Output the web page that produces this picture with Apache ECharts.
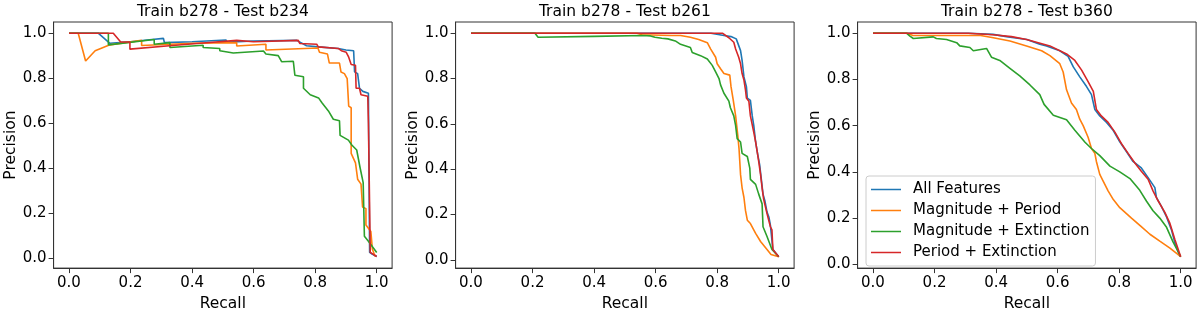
<!DOCTYPE html>
<html><head><meta charset="utf-8">
<script src="https://cdn.jsdelivr.net/npm/echarts@6/dist/echarts.min.js"></script>
<style>html,body{margin:0;padding:0;background:#fff}#c{width:1200px;height:317px}</style>
</head><body><div id="c"></div>
<script>
// ---- labels ----
const seriesNames = ['All Features', 'Magnitude + Period', 'Magnitude + Extinction', 'Period + Extinction'];
const panelTitles = ['Train b278 - Test b234', 'Train b278 - Test b261', 'Train b278 - Test b360'];
const tickValues = [0.0, 0.2, 0.4, 0.6, 0.8, 1.0];
const xAxisTitle = 'Recall';
const yAxisTitle = 'Precision';

// ---- Panel 1: Test b234, [recall, precision] ----
const b234_all = [[0,1],[0.095,1],[0.133,0.955],[0.2,0.962],[0.27,0.972],[0.307,0.977],[0.31,0.958],[0.4,0.962],[0.51,0.97],[0.515,0.96],[0.6,0.965],[0.74,0.968],[0.772,0.944],[0.81,0.939],[0.875,0.932],[0.9,0.925],[0.925,0.922],[0.928,0.828],[0.938,0.82],[0.944,0.755],[0.955,0.741],[0.973,0.733],[0.977,0.024],[0.985,0.017],[1.0,0.006]];
const b234_magper = [[0,1],[0.03,1],[0.054,0.876],[0.085,0.922],[0.133,0.948],[0.236,0.968],[0.236,0.945],[0.404,0.955],[0.404,0.948],[0.545,0.958],[0.545,0.943],[0.64,0.951],[0.64,0.925],[0.809,0.934],[0.814,0.915],[0.84,0.907],[0.846,0.867],[0.879,0.867],[0.884,0.827],[0.895,0.82],[0.904,0.798],[0.909,0.675],[0.917,0.668],[0.917,0.465],[0.931,0.423],[0.938,0.35],[0.949,0.328],[0.954,0.226],[0.965,0.219],[0.965,0.146],[0.981,0.117],[0.986,0.038],[0.995,0.006]];
const b234_magext = [[0,1],[0.128,1],[0.128,0.948],[0.277,0.972],[0.277,0.951],[0.328,0.958],[0.328,0.936],[0.436,0.946],[0.436,0.936],[0.49,0.932],[0.49,0.922],[0.534,0.912],[0.632,0.921],[0.64,0.907],[0.68,0.9],[0.691,0.873],[0.729,0.875],[0.734,0.813],[0.762,0.806],[0.762,0.755],[0.784,0.726],[0.811,0.712],[0.822,0.69],[0.843,0.654],[0.859,0.617],[0.879,0.61],[0.881,0.545],[0.908,0.524],[0.919,0.502],[0.935,0.48],[0.946,0.401],[0.956,0.335],[0.96,0.096],[0.973,0.074],[1.0,0.024]];
const b234_perext = [[0,1],[0.144,1],[0.168,0.961],[0.198,0.961],[0.198,0.929],[0.317,0.943],[0.426,0.955],[0.545,0.968],[0.545,0.96],[0.6,0.962],[0.745,0.968],[0.75,0.954],[0.805,0.951],[0.81,0.939],[0.875,0.932],[0.885,0.922],[0.901,0.915],[0.909,0.893],[0.917,0.861],[0.931,0.857],[0.933,0.755],[0.944,0.755],[0.949,0.726],[0.971,0.719],[0.973,0.603],[0.979,0.603],[0.979,0.024],[1.0,0.006]];

// ---- Panel 2: Test b261 ----
const b261_all = [[0,1],[0.78,1],[0.822,0.99],[0.845,0.985],[0.862,0.975],[0.876,0.923],[0.881,0.88],[0.887,0.807],[0.895,0.764],[0.898,0.714],[0.908,0.704],[0.914,0.635],[0.919,0.592],[0.925,0.52],[0.932,0.463],[0.938,0.42],[0.943,0.362],[0.949,0.29],[0.955,0.261],[0.962,0.211],[0.968,0.189],[0.973,0.153],[0.981,0.046],[1.0,0.014]];
const b261_magper = [[0,1],[0.54,1],[0.545,0.995],[0.556,0.993],[0.65,0.99],[0.681,0.99],[0.713,0.982],[0.74,0.972],[0.768,0.958],[0.779,0.93],[0.795,0.894],[0.8,0.865],[0.811,0.843],[0.822,0.822],[0.841,0.815],[0.845,0.764],[0.852,0.707],[0.86,0.635],[0.867,0.549],[0.871,0.491],[0.876,0.376],[0.881,0.318],[0.887,0.275],[0.892,0.218],[0.898,0.175],[0.908,0.16],[0.925,0.117],[0.941,0.081],[0.962,0.046],[0.975,0.024],[1.0,0.014]];
const b261_magext = [[0,1],[0.208,1],[0.218,0.982],[0.4,0.986],[0.56,0.99],[0.583,0.988],[0.598,0.982],[0.62,0.978],[0.64,0.975],[0.664,0.966],[0.681,0.951],[0.713,0.937],[0.719,0.915],[0.746,0.901],[0.768,0.886],[0.784,0.858],[0.795,0.829],[0.806,0.8],[0.811,0.772],[0.822,0.735],[0.838,0.7],[0.843,0.671],[0.854,0.635],[0.86,0.592],[0.865,0.535],[0.876,0.52],[0.881,0.47],[0.898,0.456],[0.906,0.405],[0.908,0.355],[0.925,0.333],[0.935,0.29],[0.946,0.247],[0.949,0.146],[0.962,0.103],[0.978,0.046],[1.0,0.014]];
const b261_perext = [[0,1],[0.817,1],[0.838,0.98],[0.854,0.96],[0.86,0.93],[0.87,0.894],[0.876,0.865],[0.881,0.822],[0.887,0.793],[0.892,0.75],[0.895,0.714],[0.903,0.7],[0.908,0.635],[0.919,0.563],[0.925,0.52],[0.93,0.477],[0.935,0.434],[0.941,0.376],[0.946,0.318],[0.951,0.268],[0.962,0.204],[0.973,0.146],[0.978,0.132],[0.981,0.046],[1.0,0.014]];

// ---- Panel 3: Test b360 ----
const b360_all = [[0,1],[0.31,1],[0.39,0.995],[0.434,0.985],[0.5,0.973],[0.542,0.952],[0.564,0.945],[0.607,0.924],[0.634,0.9],[0.651,0.854],[0.672,0.811],[0.694,0.769],[0.71,0.734],[0.721,0.67],[0.737,0.642],[0.759,0.614],[0.781,0.579],[0.802,0.53],[0.824,0.487],[0.845,0.445],[0.872,0.417],[0.894,0.375],[0.916,0.332],[0.921,0.29],[0.938,0.248],[0.954,0.205],[0.97,0.149],[0.981,0.093],[0.997,0.036],[1.0,0.033]];
const b360_magper = [[0,1],[0.11,1],[0.13,0.99],[0.35,0.99],[0.391,0.98],[0.445,0.966],[0.499,0.945],[0.548,0.924],[0.575,0.903],[0.607,0.868],[0.618,0.832],[0.629,0.755],[0.645,0.698],[0.661,0.67],[0.672,0.628],[0.683,0.6],[0.699,0.55],[0.71,0.501],[0.721,0.48],[0.726,0.445],[0.737,0.389],[0.748,0.36],[0.764,0.318],[0.781,0.28],[0.802,0.245],[0.84,0.2],[0.87,0.165],[0.9,0.13],[0.932,0.1],[0.965,0.07],[1.0,0.033]];
const b360_magext = [[0,1],[0.109,1],[0.12,0.987],[0.131,0.977],[0.196,0.984],[0.206,0.977],[0.239,0.973],[0.272,0.959],[0.282,0.945],[0.315,0.938],[0.326,0.924],[0.369,0.934],[0.385,0.896],[0.412,0.882],[0.445,0.848],[0.477,0.815],[0.51,0.776],[0.542,0.734],[0.556,0.692],[0.586,0.645],[0.629,0.625],[0.656,0.58],[0.689,0.528],[0.71,0.501],[0.737,0.47],[0.77,0.425],[0.802,0.4],[0.835,0.371],[0.867,0.32],[0.889,0.273],[0.91,0.232],[0.932,0.2],[0.954,0.16],[0.975,0.097],[1.0,0.033]];
const b360_perext = [[0,1],[0.31,1],[0.31,0.993],[0.39,0.993],[0.45,0.985],[0.499,0.973],[0.575,0.945],[0.629,0.91],[0.656,0.882],[0.678,0.84],[0.699,0.79],[0.716,0.748],[0.726,0.67],[0.742,0.642],[0.764,0.614],[0.786,0.572],[0.807,0.523],[0.829,0.48],[0.851,0.438],[0.872,0.403],[0.894,0.368],[0.91,0.318],[0.926,0.276],[0.948,0.226],[0.965,0.177],[0.981,0.107],[1.0,0.033]];

const panels = [
  [b234_all, b234_magper, b234_magext, b234_perext],
  [b261_all, b261_magper, b261_magext, b261_perext],
  [b360_all, b360_magper, b360_magext, b360_perext]
];

// ---- styling / layout ----
const colors = ['#1f77b4', '#ff7f0e', '#2ca02c', '#d62728'];
const FONT = 'DejaVu Sans';
const gridLefts = [53.6, 455.6, 857.6];
const gridW = 338.5, gridTop = 22, gridH = 252;
const yMins = [-0.0458, -0.0364, -0.0164];
const yMaxs = [1.0498, 1.0494, 1.0484];
const fmt = v => v.toFixed(1);

const grids = [], xAxes = [], yAxes = [], titles = [], series = [];
panels.forEach((pdata, p) => {
  grids.push({left: gridLefts[p], top: gridTop, width: gridW, height: gridH,
    show: true, borderColor: '#333', borderWidth: 1, backgroundColor: 'transparent', containLabel: false});
  xAxes.push({type: 'value', gridIndex: p, min: -0.05, max: 1.05,
    name: xAxisTitle, nameLocation: 'middle', nameGap: 23,
    nameTextStyle: {fontFamily: FONT, fontSize: 15.5, color: '#000'},
    axisLine: {show: true, onZero: false, lineStyle: {color: '#333', width: 1}},
    axisTick: {show: true, length: 5, customValues: tickValues, lineStyle: {color: '#333'}},
    axisLabel: {customValues: tickValues, formatter: fmt, margin: 8, fontFamily: FONT, fontSize: 15, color: '#000'},
    splitLine: {show: false}});
  yAxes.push({type: 'value', gridIndex: p, min: yMins[p], max: yMaxs[p],
    name: yAxisTitle, nameLocation: 'middle', nameGap: 34,
    nameTextStyle: {fontFamily: FONT, fontSize: 15.5, color: '#000'},
    axisLine: {show: true, onZero: false, lineStyle: {color: '#333', width: 1}},
    axisTick: {show: true, length: 5, customValues: tickValues, lineStyle: {color: '#333'}},
    axisLabel: {customValues: tickValues, formatter: fmt, margin: 7, fontFamily: FONT, fontSize: 15, color: '#000'},
    splitLine: {show: false}});
  titles.push({text: panelTitles[p], left: gridLefts[p] + gridW / 2, top: 3.5, textAlign: 'center', padding: 0,
    textStyle: {fontFamily: FONT, fontSize: 15.5, fontWeight: 'normal', color: '#000'}});
  pdata.forEach((d, i) => {
    series.push({type: 'line', name: seriesNames[i], xAxisIndex: p, yAxisIndex: p, data: d,
      symbol: 'none', showSymbol: false, clip: true, animation: false,
      lineStyle: {color: colors[i], width: 1.6}, itemStyle: {color: colors[i]}});
  });
});

const chart = echarts.init(document.getElementById('c'), null, {renderer: 'canvas'});
chart.setOption({
  animation: false,
  title: titles,
  grid: grids,
  xAxis: xAxes,
  yAxis: yAxes,
  legend: {
    data: seriesNames, orient: 'vertical', left: 866, top: 176,
    icon: 'path://M0,0H40V2H0Z',
    itemWidth: 30, itemHeight: 14, itemGap: 6,
    padding: [6, 6, 6, 5],
    backgroundColor: 'rgba(255,255,255,0.8)', borderColor: '#cccccc', borderWidth: 1, borderRadius: 3,
    textStyle: {fontFamily: FONT, fontSize: 15, color: '#000', padding: [0, 0, 0, 7]},
    selectedMode: false
  },
  series: series
});
</script>
</body></html>
